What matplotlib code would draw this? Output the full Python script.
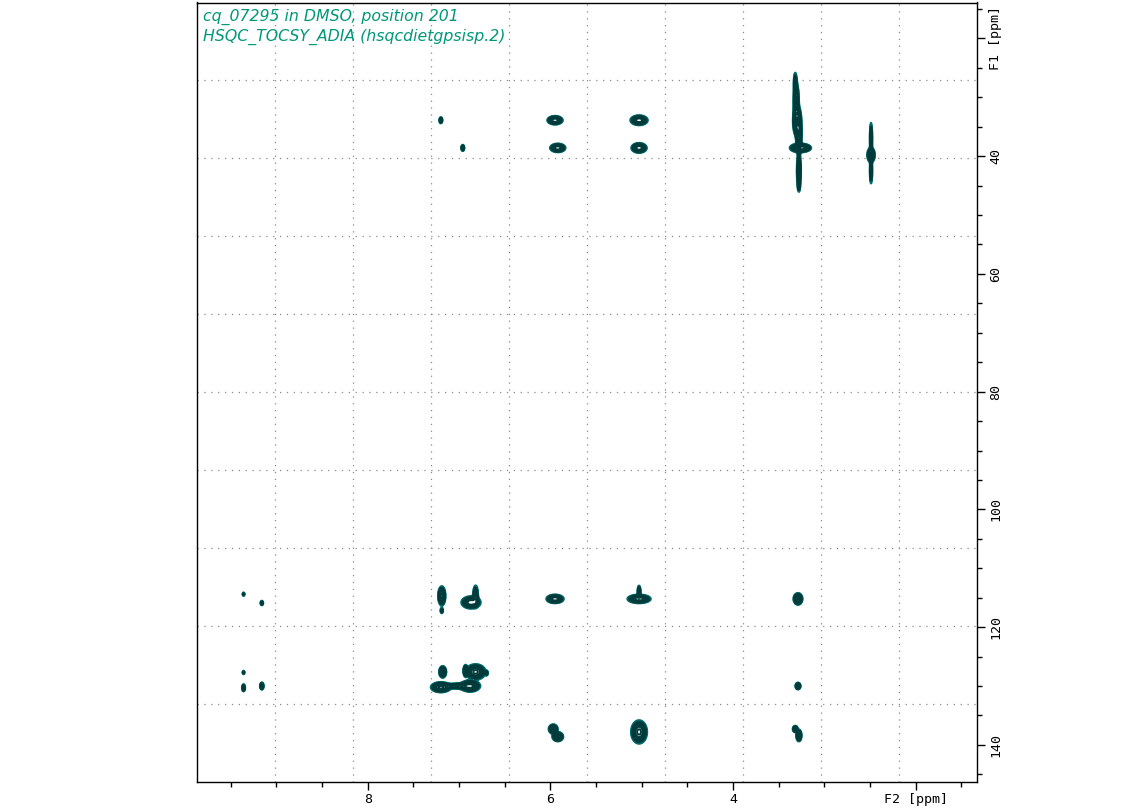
import numpy as np
import matplotlib
matplotlib.use('Agg')
import matplotlib.pyplot as plt
from matplotlib.ticker import MultipleLocator, FixedLocator, FixedFormatter

# Titulos del espectro
title_1 = 'cq_07295 in DMSO, position 201'
title_2 = 'HSQC_TOCSY_ADIA (hsqcdietgpsisp.2)'

# Limites de los ejes (ppm)
f2_lim = (9.87, 1.33)
f1_lim = (146.3, 13.9)

# Etiquetas de los ejes
f2_ticks = [8, 6, 4, 2]
f2_labels = ['8', '6', '4', 'F2 [ppm]']
f1_ticks = [20, 40, 60, 80, 100, 120, 140]
f1_labels = ['F1 [ppm]', '40', '60', '80', '100', '120', '140']

# Picos de cruce: desplazamiento F2, F1, ancho F2, ancho F1, intensidad
peak_f2 = [7.20, 5.95, 5.03, 3.30, 3.31, 3.32,
           6.96, 5.92, 5.03, 3.27, 3.21, 3.28, 3.28, 3.28, 2.49, 2.49, 2.49,
           9.36, 9.16, 7.19, 7.19, 6.87, 6.82, 5.95, 5.03, 5.03, 3.29,
           9.36, 9.36, 9.16, 7.18, 7.20, 7.00, 6.82, 6.88, 6.93, 6.70, 3.29,
           5.97, 5.92, 5.03, 3.32, 3.28]
peak_f1 = [33.9, 33.9, 33.9, 34.0, 30.5, 27.5,
           38.6, 38.6, 38.6, 38.6, 38.6, 36.5, 42.5, 45.0, 39.8, 37.0, 42.5,
           114.4, 115.9, 114.7, 117.2, 115.8, 114.6, 115.2, 115.2, 114.0, 115.2,
           127.7, 130.3, 130.0, 127.6, 130.2, 130.0, 127.6, 130.0, 127.4, 127.8, 130.0,
           137.3, 138.6, 137.8, 137.3, 138.4]
peak_w2 = [0.010, 0.040, 0.045, 0.020, 0.015, 0.010,
           0.010, 0.040, 0.040, 0.050, 0.030, 0.015, 0.012, 0.008, 0.020, 0.008, 0.008,
           0.008, 0.010, 0.020, 0.010, 0.050, 0.015, 0.045, 0.060, 0.010, 0.025,
           0.008, 0.010, 0.012, 0.020, 0.050, 0.080, 0.050, 0.050, 0.012, 0.010, 0.015,
           0.025, 0.030, 0.040, 0.015, 0.015]
peak_w1 = [0.30, 0.35, 0.40, 1.20, 1.50, 1.00,
           0.30, 0.35, 0.40, 0.35, 0.25, 1.50, 1.50, 0.60, 0.60, 1.50, 1.20,
           0.20, 0.25, 0.80, 0.30, 0.50, 0.90, 0.35, 0.35, 0.60, 0.50,
           0.20, 0.35, 0.35, 0.50, 0.40, 0.25, 0.60, 0.45, 0.50, 0.25, 0.30,
           0.40, 0.40, 0.90, 0.30, 0.50]
peak_amp = [0.5, 1.0, 1.0, 1.5, 0.8, 0.4,
            0.5, 1.0, 1.0, 1.2, 0.5, 1.0, 0.7, 0.3, 1.0, 0.5, 0.5,
            0.3, 0.35, 0.9, 0.3, 1.0, 0.6, 1.0, 1.0, 0.5, 0.8,
            0.3, 0.5, 0.5, 0.8, 1.2, 0.6, 1.2, 1.2, 0.7, 0.3, 0.7,
            0.8, 0.8, 1.2, 0.6, 0.8]

color_dark = '#003a3a'
color_light = '#006b6b'
color_title = '#00987a'
color_grid = '#8a8a8a'
font_ticks = 'DejaVu Sans Mono'

# Matriz del espectro
x = np.linspace(f2_lim[1], f2_lim[0], 2000)
y = np.linspace(f1_lim[1], f1_lim[0], 1400)
z = np.zeros((len(y), len(x)))
for p2, p1, w2, w1, a in zip(peak_f2, peak_f1, peak_w2, peak_w1, peak_amp):
    gx = np.exp(-0.5 * ((x - p2) / w2) ** 2)
    gy = np.exp(-0.5 * ((y - p1) / w1) ** 2)
    z += a * np.outer(gy, gx)

levels = 0.1 * 1.4 ** np.arange(12)
colors = [color_light, color_light] + [color_dark] * (len(levels) - 2)

fig = plt.figure(figsize=(11.24, 8.11), dpi=100)
ax = fig.add_axes([197 / 1124, 1 - 782 / 811, 780 / 1124, 779.5 / 811])

ax.contour(x, y, z, levels=levels, colors=colors, linewidths=1.4)

ax.set_xlim(*f2_lim)
ax.set_ylim(*f1_lim)

# Rejilla punteada (10 x 10 divisiones del marco)
for k in range(1, 10):
    ax.plot([k / 10, k / 10], [0, 1], transform=ax.transAxes, color=color_grid,
            linestyle=(0, (1, 4.5)), linewidth=0.9, zorder=0)
    ax.plot([0, 1], [k / 10, k / 10], transform=ax.transAxes, color=color_grid,
            linestyle=(0, (1, 4.5)), linewidth=0.9, zorder=0)

for s in ax.spines.values():
    s.set_linewidth(1.0)
    s.set_color('black')

# Eje F2 (abajo)
ax.xaxis.set_major_locator(FixedLocator(f2_ticks))
ax.xaxis.set_major_formatter(FixedFormatter(f2_labels))
ax.xaxis.set_minor_locator(MultipleLocator(0.5))
ax.tick_params(axis='x', which='major', direction='out', length=6, width=1.0, pad=2,
               labelsize=9.5, top=False, bottom=True)
ax.tick_params(axis='x', which='minor', direction='out', length=3.8, width=1.0,
               top=False, bottom=True)

# Eje F1 (derecha)
ax.yaxis.tick_right()
ax.yaxis.set_major_locator(FixedLocator(f1_ticks))
ax.yaxis.set_major_formatter(FixedFormatter(f1_labels))
ax.yaxis.set_minor_locator(MultipleLocator(5))
ax.tick_params(axis='y', which='major', direction='out', length=6, width=1.0, pad=3,
               labelsize=9.5, left=False, right=True)
ax.tick_params(axis='y', which='minor', direction='out', length=3.8, width=1.0,
               left=False, right=True)
for lbl in ax.get_yticklabels():
    lbl.set_rotation(90)
    lbl.set_va('center')
    lbl.set_fontname(font_ticks)
for lbl in ax.get_xticklabels():
    lbl.set_fontname(font_ticks)

fig.text(203 / 1124, 1 - 9 / 811, title_1, color=color_title, style='italic',
         fontsize=11.3, va='top', ha='left')
fig.text(203 / 1124, 1 - 29 / 811, title_2, color=color_title, style='italic',
         fontsize=11.3, va='top', ha='left')

fig.savefig('out.png', dpi=100, facecolor='white')
